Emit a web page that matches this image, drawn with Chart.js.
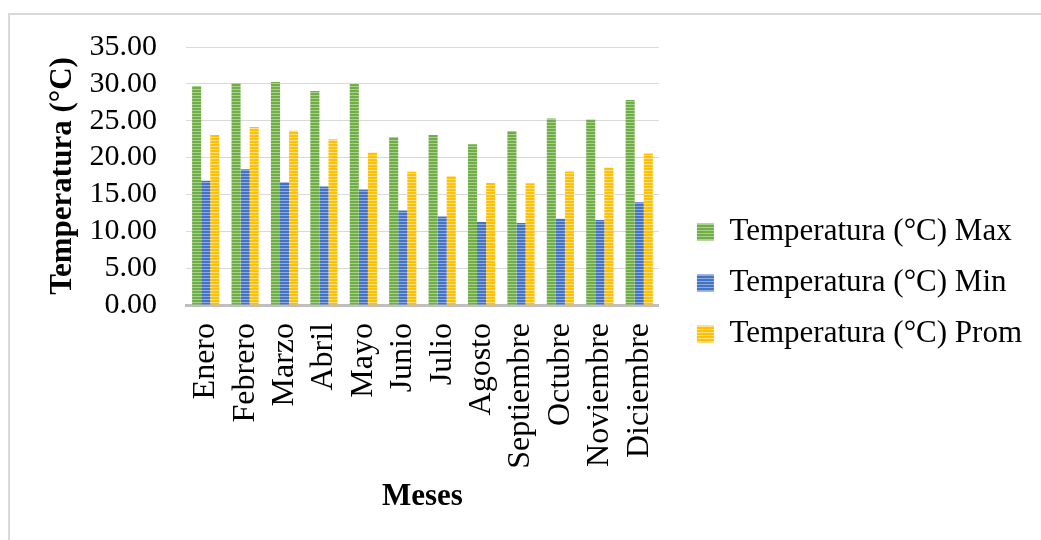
<!DOCTYPE html>
<html>
<head>
<meta charset="utf-8">
<script src="https://cdn.jsdelivr.net/npm/chart.js@4"></script>
<style>
  html, body { margin: 0; padding: 0; background: #fff; overflow: hidden; }
  #frame { position: absolute; left: 8px; top: 13px; width: 1100px; height: 600px;
           border: 2px solid #d9d9d9; box-sizing: border-box; }
  #wrap { position: absolute; left: 0; top: 0; width: 1041px; height: 540px; }
</style>
</head>
<body>
<div id="frame"></div>
<div id="wrap"><canvas id="c" width="1041" height="540"></canvas></div>
<script>
// Monthly temperatures (°C)
const months = ['Enero', 'Febrero', 'Marzo', 'Abril', 'Mayo', 'Junio', 'Julio',
                'Agosto', 'Septiembre', 'Octubre', 'Noviembre', 'Diciembre'];
const tempMax  = [29.70, 30.10, 30.24, 29.03, 29.97, 22.79, 23.06, 21.80, 23.60, 25.30, 25.17, 27.82];
const tempMin  = [16.87, 18.40, 16.64, 16.06, 15.66, 12.83, 12.02, 11.26, 11.13, 11.71, 11.53, 13.95];
const tempProm = [23.06, 24.14, 23.64, 22.48, 20.68, 18.08, 17.50, 16.55, 16.51, 18.12, 18.66, 20.55];
const seriesNames = ['Temperatura (°C) Max', 'Temperatura (°C) Min', 'Temperatura (°C) Prom'];
const yTickValues = [0, 5, 10, 15, 20, 25, 30, 35];
const yTitle = 'Temperatura (°C)';
const xTitle = 'Meses';

// Horizontal-stripe fill: base colour with a thin lighter line every 3px
function stripes(base, light) {
  const c = document.createElement('canvas');
  c.width = 4; c.height = 3;
  const g = c.getContext('2d');
  g.fillStyle = base;  g.fillRect(0, 0, 4, 3);
  g.fillStyle = light; g.fillRect(0, 2, 4, 1);
  return g.createPattern(c, 'repeat');
}

const serif = 'Liberation Serif, "Times New Roman", serif';
const fills = [
  stripes('#70ad47', '#a9d18e'),
  stripes('#4472c4', '#8faadc'),
  stripes('#ffc000', '#ffe08a')
];
const values = [tempMax, tempMin, tempProm];

new Chart(document.getElementById('c'), {
  type: 'bar',
  data: {
    labels: months,
    datasets: seriesNames.map((name, i) => ({
      label: name,
      data: values[i],
      backgroundColor: fills[i],
      borderWidth: 0,
      categoryPercentage: 0.69,
      barPercentage: 1.0
    }))
  },
  options: {
    responsive: false,
    animation: false,
    devicePixelRatio: 1,
    layout: { padding: { left: 44, top: 45, right: 9, bottom: 19 } },
    plugins: {
      tooltip: { enabled: false },
      legend: {
        position: 'right',
        align: 'center',
        maxWidth: 420,
        labels: {
          boxWidth: 17, boxHeight: 17, padding: 20,
          color: '#000',
          font: { family: serif, size: 31 }
        }
      }
    },
    scales: {
      x: {
        grid: { display: false, drawTicks: false },
        border: { display: true, color: '#bfbfbf', width: 3 },
        ticks: {
          color: '#000', font: { family: serif, size: 32 },
          minRotation: 90, maxRotation: 90, autoSkip: false, padding: 18
        },
        title: {
          display: true, text: xTitle, color: '#000',
          font: { family: serif, size: 31, weight: 'bold' },
          padding: { top: 10, bottom: 5 }
        },
        afterFit: s => { s.height = 216; }
      },
      y: {
        min: 0, max: 35,
        afterBuildTicks: s => { s.ticks = yTickValues.map(v => ({ value: v })); },
        grid: { color: '#d9d9d9', lineWidth: 1, drawTicks: false },
        border: { display: false },
        ticks: {
          color: '#000', font: { family: serif, size: 30 }, padding: 29,
          autoSkip: false,
          callback: v => Number(v).toFixed(2)
        },
        title: {
          display: true, text: yTitle, color: '#000',
          font: { family: serif, size: 31, weight: 'bold' },
          padding: { top: 0, bottom: 8 }
        },
        afterFit: s => { s.width = 142; }
      },
      // empty spacer between the plot and the legend
      gap: {
        type: 'linear', position: 'right', display: true,
        grid: { display: false }, ticks: { display: false }, border: { display: false },
        afterFit: s => { s.width = 18; }
      }
    }
  }
});
</script>
</body>
</html>
